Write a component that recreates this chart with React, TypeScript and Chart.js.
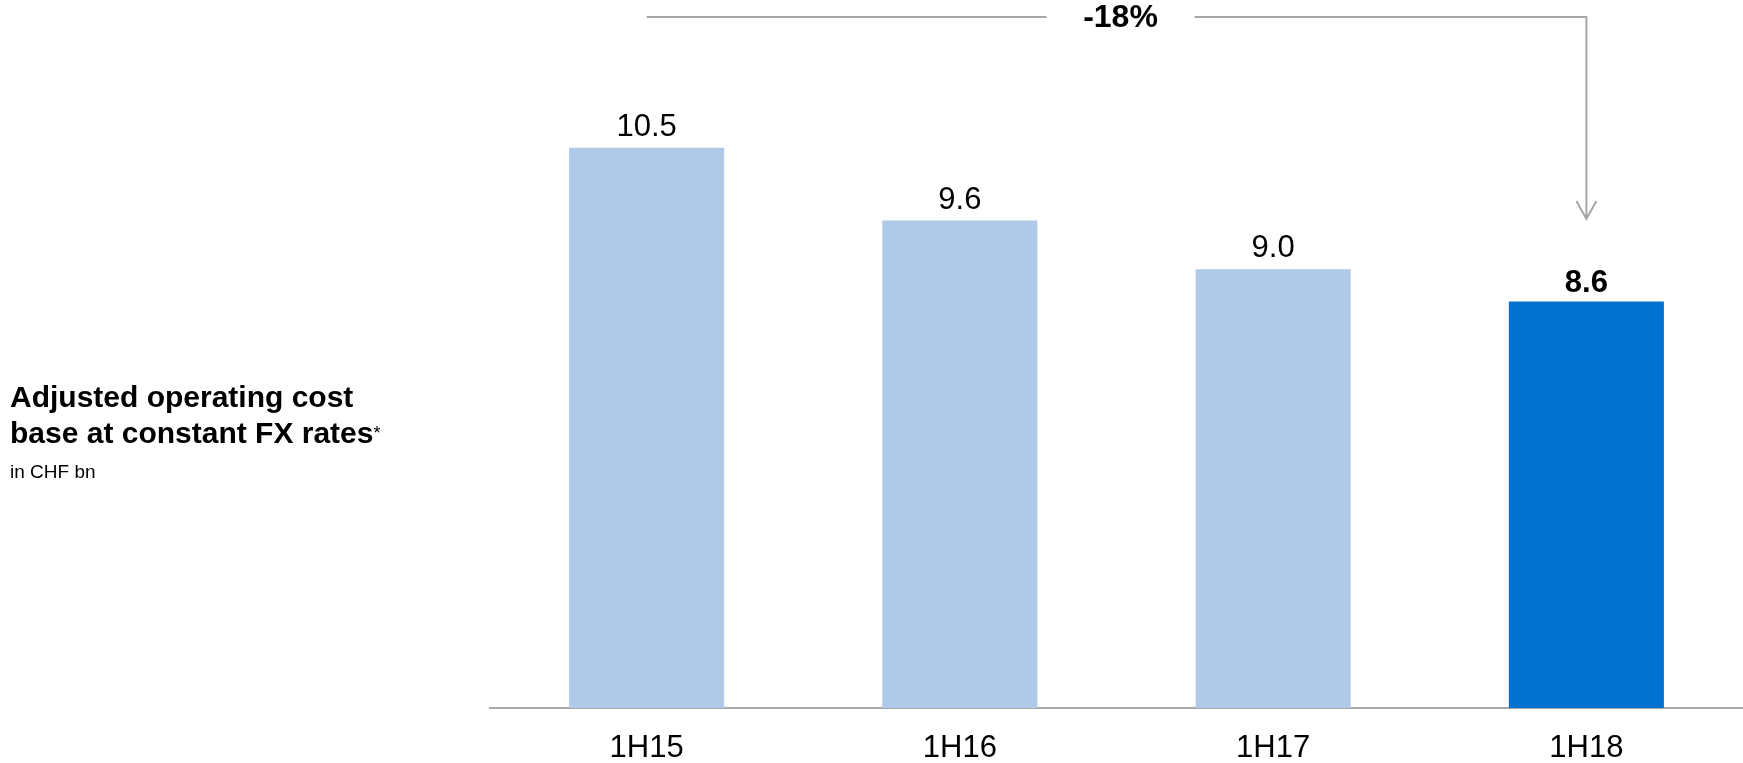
import React, { useEffect, useRef } from "react";
import { Chart, registerables } from "chart.js";

Chart.register(...registerables);

const categories = ["1H15", "1H16", "1H17", "1H18"];
const values = [10.5, 9.6, 9.0, 8.6];
const valueLabels = ["10.5", "9.6", "9.0", "8.6"];
const highlighted = [false, false, false, true];
const barColors = ["#AFC9E9", "#AFC9E9", "#AFC9E9", "#0071CE"];
const changeLabel = "-18%";
const titleLines = ["Adjusted operating cost", "base at constant FX rates"];
const unitLabel = "in CHF bn";
const yMin = 3.58;
const yMax = 11.83;

const FONT = '"Liberation Sans", Arial, sans-serif';

const valueLabelPlugin = {
  id: "valueLabels",
  afterDatasetsDraw(chart: any) {
    const ctx = chart.ctx;
    const meta = chart.getDatasetMeta(0);
    meta.data.forEach((bar: any, i: number) => {
      ctx.save();
      ctx.font = `${highlighted[i] ? "bold " : ""}31px ${FONT}`;
      ctx.fillStyle = "#000";
      ctx.textAlign = "center";
      ctx.textBaseline = "alphabetic";
      ctx.fillText(valueLabels[i], bar.x, bar.y - (highlighted[i] ? 10 : 12));
      ctx.restore();
    });
  },
};

const bracketPlugin = {
  id: "bracket",
  afterDatasetsDraw(chart: any) {
    const ctx = chart.ctx;
    const meta = chart.getDatasetMeta(0);
    const first = meta.data[0];
    const last = meta.data[meta.data.length - 1];
    const lineY = 17;
    const textX = (first.x + last.x) / 2 + 4;
    const gap = 74;
    const tipY = 219;
    ctx.save();
    ctx.strokeStyle = "#A6A6A6";
    ctx.lineWidth = 2;
    ctx.beginPath();
    ctx.moveTo(first.x, lineY);
    ctx.lineTo(textX - gap, lineY);
    ctx.moveTo(textX + gap, lineY);
    ctx.lineTo(last.x, lineY);
    ctx.lineTo(last.x, tipY);
    ctx.moveTo(last.x - 10, tipY - 18);
    ctx.lineTo(last.x, tipY);
    ctx.lineTo(last.x + 10, tipY - 18);
    ctx.stroke();
    ctx.font = `bold 32px ${FONT}`;
    ctx.fillStyle = "#000";
    ctx.textAlign = "center";
    ctx.textBaseline = "middle";
    ctx.fillText(changeLabel, textX, lineY + 1);
    ctx.restore();
  },
};

export default function App() {
  const canvasRef = useRef<HTMLCanvasElement | null>(null);

  useEffect(() => {
    if (!canvasRef.current) return;
    const chart = new Chart(canvasRef.current, {
      type: "bar",
      data: {
        labels: categories,
        datasets: [
          {
            data: values,
            backgroundColor: barColors,
            borderWidth: 0,
            barPercentage: 0.495,
            categoryPercentage: 1.0,
          },
        ],
      },
      options: {
        responsive: true,
        maintainAspectRatio: false,
        animation: false,
        devicePixelRatio: 1,
        layout: { padding: { left: 490, top: 40, right: 0, bottom: 0 } },
        plugins: {
          legend: { display: false },
          tooltip: { enabled: false },
        },
        scales: {
          x: {
            grid: { display: false, drawTicks: false },
            border: { display: true, color: "#A9A9A9", width: 2 },
            ticks: {
              color: "#000",
              font: { family: FONT, size: 31 },
              padding: 22,
            },
            afterFit(scale: any) {
              scale.height = 55;
            },
          },
          y: { display: false, min: yMin, max: yMax },
        },
      },
      plugins: [valueLabelPlugin, bracketPlugin],
    } as any);
    return () => chart.destroy();
  }, []);

  return (
    <div
      style={{
        position: "fixed",
        left: 0,
        top: 0,
        width: 1743,
        height: 763,
        background: "#fff",
        fontFamily: FONT,
      }}
    >
      <canvas ref={canvasRef} style={{ display: "block" }} />
      <div
        style={{
          position: "absolute",
          left: 10,
          top: 379,
          fontSize: 30,
          lineHeight: "36px",
          fontWeight: "bold",
          color: "#000",
          whiteSpace: "nowrap",
        }}
      >
        <div>{titleLines[0]}</div>
        <div>
          {titleLines[1]}
          <span style={{ fontSize: 18, verticalAlign: "top", fontWeight: "normal" }}>*</span>
        </div>
      </div>
      <div
        style={{
          position: "absolute",
          left: 10,
          top: 461,
          fontSize: 19,
          lineHeight: "22px",
          color: "#000",
          whiteSpace: "nowrap",
        }}
      >
        {unitLabel}
      </div>
    </div>
  );
}
